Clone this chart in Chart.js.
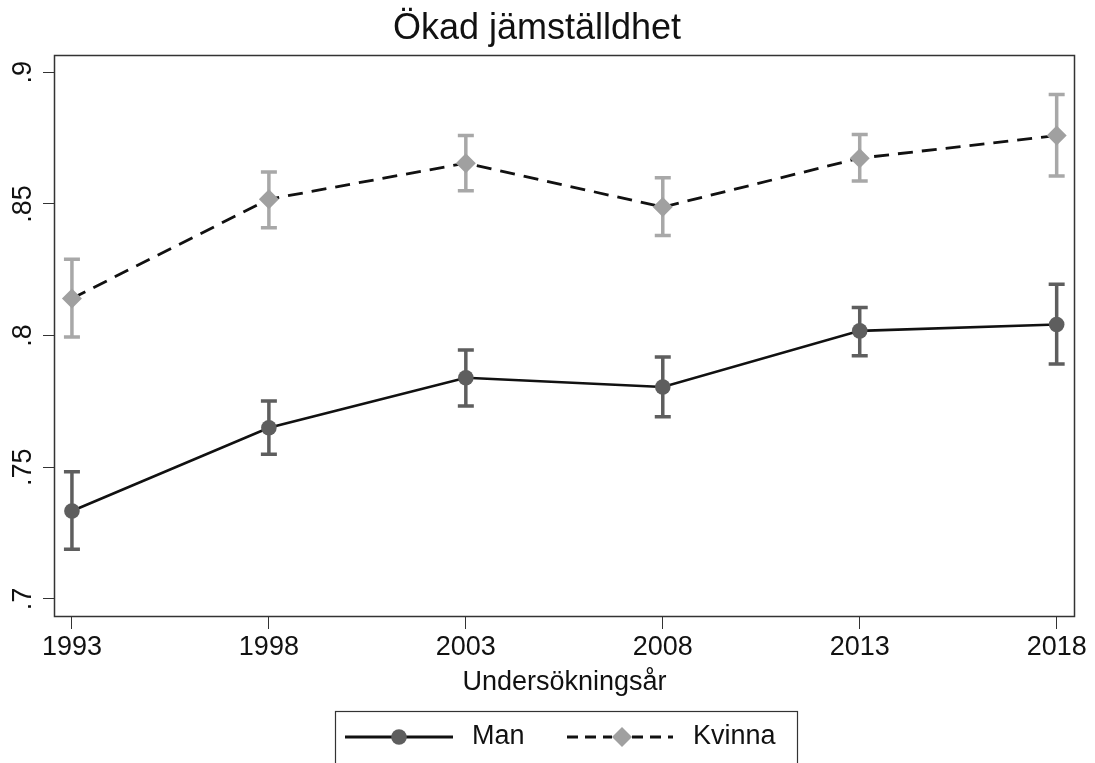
<!DOCTYPE html>
<html><head><meta charset="utf-8">
<script src="https://cdn.jsdelivr.net/npm/chart.js@4"></script>
<style>html,body{margin:0;padding:0;background:#fff}#wrap{width:1095px;height:763px}</style>
</head><body><div id="wrap"><canvas id="c" width="1095" height="763"></canvas></div>
<script>
const years = [1993, 1998, 2003, 2008, 2013, 2018];
const manValues = [0.7334, 0.7650, 0.7840, 0.7805, 0.8018, 0.8042];
const manLower = [0.7189, 0.7549, 0.7733, 0.7692, 0.7923, 0.7892];
const manUpper = [0.7483, 0.7752, 0.7945, 0.7919, 0.8107, 0.8195];
const kvinnaValues = [0.8141, 0.8518, 0.8655, 0.8488, 0.8674, 0.8760];
const kvinnaLower = [0.7995, 0.8410, 0.8550, 0.8380, 0.8587, 0.8606];
const kvinnaUpper = [0.8290, 0.8621, 0.8760, 0.8600, 0.8764, 0.8916];
const yTickValues = [0.7, 0.75, 0.8, 0.85, 0.9];
const yTickLabels = ['.7', '.75', '.8', '.85', '.9'];
const seriesNames = ['Man', 'Kvinna'];
const titleText = 'Ökad jämställdhet';
const xTitleText = 'Undersökningsår';

const FONT = '"Liberation Sans", Arial, Helvetica, sans-serif';
const manColor = '#5e5e5e';
const kvinnaColor = '#a0a0a0';
const kvinnaBarColor = '#a8a8a8';

function pts(vals) { return years.map((y, i) => ({x: y, y: vals[i]})); }

const errorBars = {
  id: 'errorBars',
  beforeDatasetsDraw(chart) {
    const ctx = chart.ctx, xs = chart.scales.x, ys = chart.scales.y;
    const sets = [[kvinnaLower, kvinnaUpper, kvinnaBarColor], [manLower, manUpper, manColor]];
    ctx.save();
    sets.forEach(([lo, hi, col]) => {
      ctx.strokeStyle = col; ctx.lineWidth = 3.5; ctx.lineCap = 'butt';
      years.forEach((yr, i) => {
        const x = xs.getPixelForValue(yr);
        const y1 = ys.getPixelForValue(lo[i]), y2 = ys.getPixelForValue(hi[i]);
        ctx.beginPath();
        ctx.moveTo(x, y1); ctx.lineTo(x, y2);
        ctx.moveTo(x - 8, y1); ctx.lineTo(x + 8, y1);
        ctx.moveTo(x - 8, y2); ctx.lineTo(x + 8, y2);
        ctx.stroke();
      });
    });
    ctx.restore();
  }
};

const frame = {
  id: 'frame',
  afterDraw(chart) {
    const ctx = chart.ctx, a = chart.chartArea;
    ctx.save();
    ctx.strokeStyle = '#333'; ctx.lineWidth = 1.5;
    ctx.strokeRect(Math.round(a.left) - 0.5, Math.round(a.top) + 0.5, Math.round(a.right - a.left) + 1, Math.round(a.bottom - a.top));
    // legend
    const lx = 335.5, ly = 711.5, lw = 462, lh = 70, cy = 737;
    ctx.lineWidth = 1.2; ctx.strokeStyle = '#333';
    ctx.strokeRect(lx, ly, lw, lh);
    ctx.strokeStyle = '#111'; ctx.lineWidth = 2.8;
    ctx.beginPath(); ctx.moveTo(345, cy); ctx.lineTo(453, cy); ctx.stroke();
    ctx.fillStyle = manColor;
    ctx.beginPath(); ctx.arc(399, cy, 7.8, 0, Math.PI * 2); ctx.fill();
    ctx.setLineDash([11, 7]);
    ctx.beginPath(); ctx.moveTo(567, cy); ctx.lineTo(612, cy); ctx.stroke();
    ctx.beginPath(); ctx.moveTo(632, cy); ctx.lineTo(673, cy); ctx.stroke();
    ctx.setLineDash([]);
    ctx.fillStyle = kvinnaColor;
    ctx.beginPath(); ctx.moveTo(622, cy - 10); ctx.lineTo(632, cy); ctx.lineTo(622, cy + 10); ctx.lineTo(612, cy); ctx.closePath(); ctx.fill();
    ctx.fillStyle = '#111'; ctx.font = '27px ' + FONT; ctx.textBaseline = 'middle'; ctx.textAlign = 'left';
    ctx.fillText(seriesNames[0], 472, cy);
    ctx.fillText(seriesNames[1], 693, cy);
    ctx.restore();
  }
};

new Chart(document.getElementById('c'), {
  type: 'line',
  data: {
    datasets: [
      {label: seriesNames[0], data: pts(manValues), borderColor: '#111', borderWidth: 2.6,
       pointStyle: 'circle', pointRadius: 7.8, pointBackgroundColor: manColor, pointBorderWidth: 0, pointBorderColor: manColor, tension: 0},
      {label: seriesNames[1], data: pts(kvinnaValues), borderColor: '#111', borderWidth: 2.8, borderDash: [15, 9],
       pointStyle: 'rectRot', pointRadius: 10, pointBackgroundColor: kvinnaColor, pointBorderWidth: 0, pointBorderColor: kvinnaColor, tension: 0}
    ]
  },
  options: {
    responsive: false, animation: false, devicePixelRatio: 1,
    layout: {padding: {left: 0, right: 21, top: 0, bottom: 57}},
    plugins: {
      legend: {display: false}, tooltip: {enabled: false},
      title: {display: true, text: titleText, color: '#111', font: {family: FONT, size: 36, weight: 'normal', lineHeight: 1.2}, padding: {top: 7, bottom: 5}}
    },
    scales: {
      x: {
        type: 'linear', min: 1992.57, max: 2018.44,
        afterBuildTicks: s => { s.ticks = years.map(v => ({value: v})); },
        afterFit: s => { s.height = 90; },
        ticks: {color: '#111', font: {family: FONT, size: 27}, padding: 2, maxRotation: 0, callback: v => String(v)},
        grid: {drawOnChartArea: false, drawTicks: true, tickLength: 13, color: '#333'},
        border: {display: false},
        title: {display: true, text: xTitleText, color: '#111', font: {family: FONT, size: 27}, padding: {top: 0, bottom: 7}}
      },
      y: {
        type: 'linear', min: 0.6935, max: 0.9065,
        afterBuildTicks: s => { s.ticks = yTickValues.map(v => ({value: v})); },
        afterFit: s => { s.width = 55; },
        ticks: {color: '#111', font: {family: FONT, size: 27}, padding: 1, minRotation: 90, maxRotation: 90, crossAlign: 'center',
          callback: (v, i) => yTickLabels[i]},
        grid: {drawOnChartArea: false, drawTicks: true, tickLength: 12, color: '#333'},
        border: {display: false}
      }
    }
  },
  plugins: [errorBars, frame]
});
</script></body></html>
